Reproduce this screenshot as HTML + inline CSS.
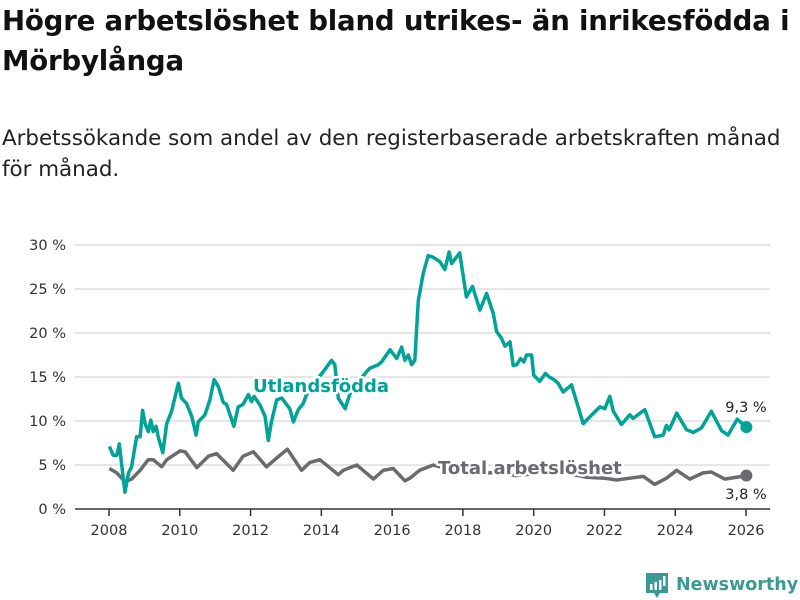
<!DOCTYPE html>
<html><head><meta charset="utf-8"><style>
body{margin:0;width:800px;height:600px;background:#fff;overflow:hidden;font-family:"DejaVu Sans","Liberation Sans",sans-serif}
#t{position:absolute;left:2px;top:1px;font-size:27.6px;font-weight:bold;line-height:40px;color:#111;white-space:nowrap;letter-spacing:-0.2px}
#s{position:absolute;left:2px;top:123px;font-size:21.4px;line-height:31px;color:#222;white-space:nowrap}
svg{position:absolute;left:0;top:0}
</style></head><body>
<div id="t">Högre arbetslöshet bland utrikes- än inrikesfödda i<br>Mörbylånga</div>
<div id="s">Arbetssökande som andel av den registerbaserade arbetskraften månad<br>för månad.</div>
<svg id="c" width="800" height="600" font-family="DejaVu Sans, sans-serif"></svg>
<script>
const yTicks=[0,5,10,15,20,25,30];
const yTickLabels=["0 %","5 %","10 %","15 %","20 %","25 %","30 %"];
const xTicks=[2008,2010,2012,2014,2016,2018,2020,2022,2024,2026];
const utlT=[2008.01,2008.12,2008.22,2008.29,2008.45,2008.55,2008.64,2008.78,2008.88,2008.95,2009.02,2009.11,2009.18,2009.25,2009.33,2009.39,2009.52,2009.63,2009.77,2009.96,2010.05,2010.19,2010.34,2010.46,2010.52,2010.71,2010.85,2010.97,2011.09,2011.23,2011.32,2011.53,2011.65,2011.79,2011.94,2012.03,2012.1,2012.27,2012.41,2012.5,2012.59,2012.74,2012.88,2013.11,2013.21,2013.35,2013.49,2013.58,2013.9,2014.2,2014.29,2014.38,2014.48,2014.67,2014.81,2015.05,2015.28,2015.37,2015.61,2015.7,2015.94,2016.13,2016.27,2016.36,2016.46,2016.55,2016.64,2016.74,2016.88,2017.02,2017.16,2017.35,2017.49,2017.61,2017.68,2017.91,2018.1,2018.27,2018.48,2018.67,2018.86,2018.95,2019.09,2019.19,2019.33,2019.42,2019.52,2019.63,2019.72,2019.8,2019.94,2020.0,2020.17,2020.33,2020.44,2020.57,2020.69,2020.83,2021.07,2021.4,2021.59,2021.87,2022.01,2022.15,2022.25,2022.48,2022.72,2022.81,2023.14,2023.42,2023.66,2023.75,2023.83,2024.04,2024.32,2024.51,2024.74,2025.02,2025.31,2025.49,2025.75,2026.01];
const utlV=[7.1,6.1,6.1,7.4,1.9,4.1,4.8,8.2,8.2,11.2,9.7,8.8,10.1,8.8,9.4,8.2,6.4,9.7,11.1,14.3,12.6,12.0,10.5,8.4,9.9,10.7,12.4,14.7,13.9,12.1,11.9,9.4,11.6,11.9,13.0,12.2,12.8,11.8,10.5,7.8,9.9,12.4,12.6,11.4,9.9,11.3,12.0,13.0,14.8,16.4,16.9,16.4,12.6,11.4,13.1,14.5,15.6,16.0,16.4,16.7,18.1,17.1,18.4,16.9,17.5,16.4,16.9,23.7,26.8,28.8,28.6,28.1,27.2,29.2,27.9,29.1,24.1,25.3,22.6,24.5,22.2,20.2,19.4,18.5,19.0,16.3,16.4,17.1,16.7,17.5,17.5,15.2,14.5,15.4,15.0,14.7,14.3,13.3,14.1,9.7,10.5,11.6,11.4,12.8,11.1,9.6,10.7,10.3,11.3,8.2,8.4,9.5,9.0,10.9,9.0,8.7,9.2,11.1,8.9,8.4,10.2,9.3];
const totT=[2008.01,2008.22,2008.45,2008.64,2008.88,2009.11,2009.25,2009.49,2009.63,2010.01,2010.15,2010.48,2010.81,2011.04,2011.51,2011.79,2012.08,2012.45,2012.74,2013.04,2013.44,2013.68,2013.96,2014.48,2014.62,2015.0,2015.18,2015.47,2015.75,2016.03,2016.36,2016.5,2016.78,2017.16,2017.6,2018.0,2018.5,2019.0,2019.5,2020.0,2020.5,2021.0,2021.5,2022.0,2022.34,2022.72,2023.1,2023.42,2023.75,2024.04,2024.41,2024.79,2025.02,2025.4,2026.01];
const totV=[4.6,4.1,3.1,3.4,4.4,5.6,5.6,4.8,5.6,6.6,6.5,4.7,6.0,6.3,4.4,6.0,6.5,4.8,5.8,6.8,4.4,5.3,5.6,3.9,4.4,5.0,4.4,3.4,4.4,4.6,3.2,3.5,4.4,5.0,4.5,4.6,4.0,4.2,3.8,4.0,4.5,4.0,3.6,3.5,3.3,3.5,3.7,2.8,3.5,4.4,3.4,4.1,4.2,3.4,3.8];
const X=t=>109+(t-2008)*35.39, Y=v=>509-v*8.8;
const svg=document.getElementById('c'),NS='http://www.w3.org/2000/svg';
function mk(tag,a,p){const e=document.createElementNS(NS,tag);for(const k in a)e.setAttribute(k,a[k]);(p||svg).appendChild(e);return e;}
yTicks.forEach((v,i)=>{
 const g=mk('line',{x1:75,x2:770,y1:Y(v),y2:Y(v),stroke:v?'#ddd':'#333','stroke-width':1.5});
 
 
 const tx=mk('text',{x:66,y:Y(v)+5,'text-anchor':'end','font-size':14.5,fill:'#333'});tx.textContent=yTickLabels[i];
 
 
});
xTicks.forEach(t=>{
 const l=mk('line',{x1:X(t),x2:X(t),y1:509,y2:516,stroke:'#333','stroke-width':1.5});
 
 
 const tx=mk('text',{x:X(t),y:535,'text-anchor':'middle','font-size':14.5,fill:'#333'});tx.textContent=t;
 
 
});
function line(T,V,col,name){
 const d=T.map((t,i)=>(i?'L':'M')+X(t).toFixed(1)+','+Y(V[i]).toFixed(1)).join('');
 const p=mk('path',{d:d,fill:'none',stroke:col,'stroke-width':3.5,'stroke-linejoin':'round'});
 
 
 const c=mk('circle',{cx:X(T[T.length-1]),cy:Y(V[V.length-1]),r:6,fill:col});
 
 
}
line(totT,totV,'#6b6a70','total-line');
line(utlT,utlV,'#00a396','utlandsfodda-line');
function lab(x,y,txt,col,name,anchor,bold,size){
 const h=mk('text',{x:x,y:y,'text-anchor':anchor,'font-size':size,'font-weight':bold?'bold':'normal',fill:'#fff',stroke:'#fff','stroke-width':5,'stroke-linejoin':'round'});h.textContent=txt;
 
 
 const t=mk('text',{x:x,y:y,'text-anchor':anchor,'font-size':size,'font-weight':bold?'bold':'normal',fill:col});t.textContent=txt;
 
 
}
lab(253,392,'Utlandsfödda','#00a396','utlandsfodda-label','start',true,18);
lab(438,474,'Total arbetslöshet','#6b6a70','total-label','start',true,18);
lab(746,412,'9,3 %','#222','utlandsfodda-value','middle',false,14.5);
lab(746,499,'3,8 %','#222','total-value','middle',false,14.5);
</script>
<svg width="800" height="600" style="pointer-events:none">
<path d="M646,573 h22 v20 h-8 l-3,5 l-3,-5 h-8 z" fill="#3a9a92"/>
<rect x="650" y="584" width="2.5" height="6" fill="#fff"/><rect x="654.5" y="582" width="2.5" height="8" fill="#fff"/><rect x="659" y="580" width="2.5" height="10" fill="#fff"/><rect x="663" y="576" width="2.5" height="10" fill="#fff"/>
<text x="676" y="590" font-size="17.5" font-weight="bold" fill="#3a9a92" font-family="DejaVu Sans, sans-serif">Newsworthy</text>
</svg>
</body></html>
